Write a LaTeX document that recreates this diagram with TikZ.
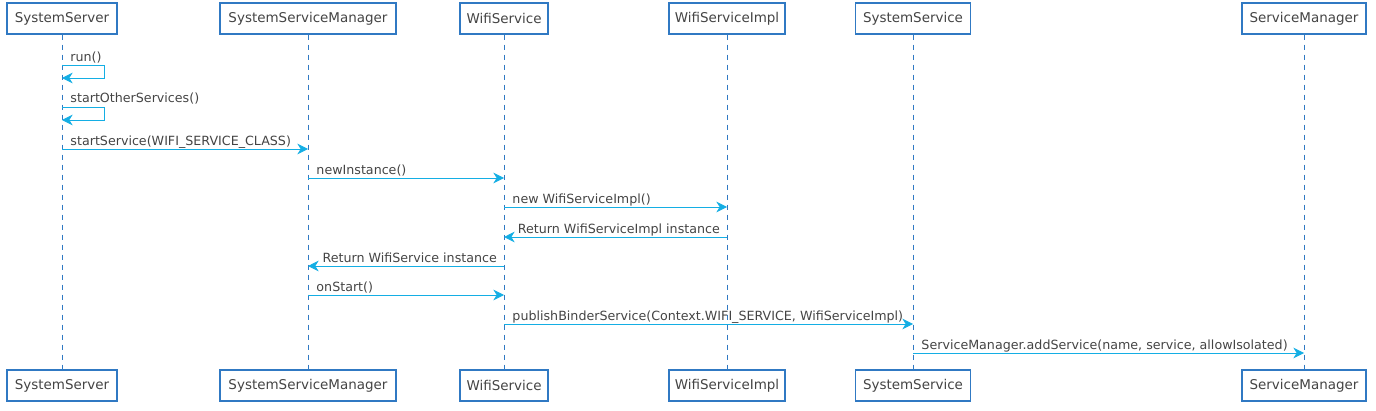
\documentclass[tikz,border=0pt]{standalone}
\usepackage{fontspec}
\setmainfont{DejaVu Sans}
\usepackage{tikz}
\usetikzlibrary{arrows.meta}
\definecolor{boxblue}{RGB}{48,121,195}
\definecolor{msgcyan}{RGB}{20,174,228}
\definecolor{txtgray}{RGB}{68,68,68}
\begin{document}
\begin{tikzpicture}
[x=0.75pt,y=-0.75pt,
part/.style={draw=boxblue,line width=0.95pt,fill=white,text=txtgray,minimum height=23.25pt,inner xsep=3pt,font=\fontsize{10.1}{12}\selectfont},
life/.style={boxblue,line width=0.7pt,dash pattern=on 4pt off 3.5pt},
msg/.style={msgcyan,line width=0.7pt,-{Stealth[length=8pt,width=8pt,inset=2.5pt]}},
lblr/.style={anchor=base west,inner sep=0pt,xshift=6pt,yshift=3pt,text=txtgray,font=\fontsize{9.5}{11}\selectfont},
lbll/.style={anchor=base east,inner sep=0pt,xshift=-5pt,yshift=3pt,text=txtgray,font=\fontsize{9.5}{11}\selectfont}]
\useasboundingbox (0,0) rectangle (1376,410);
\node[part,minimum width=82.5pt] (ss) at (62,18.5) {SystemServer};
\node[part,minimum width=132pt] (ssm) at (308,18.5) {SystemServiceManager};
\node[part,minimum width=66pt] (ws) at (504,18.5) {WifiService};
\node[part,minimum width=87pt] (wsi) at (727,18.5) {WifiServiceImpl};
\node[part,minimum width=86pt] (sys) at (913,18.5) {SystemService};
\node[part,minimum width=93pt] (sm) at (1304,18.5) {ServiceManager};
\node[part,minimum width=82.5pt] (ssb) at (62,385.5) {SystemServer};
\node[part,minimum width=132pt] (ssmb) at (308,385.5) {SystemServiceManager};
\node[part,minimum width=66pt] (wsb) at (504,385.5) {WifiService};
\node[part,minimum width=87pt] (wsib) at (727,385.5) {WifiServiceImpl};
\node[part,minimum width=86pt] (sysb) at (913,385.5) {SystemService};
\node[part,minimum width=93pt] (smb) at (1304,385.5) {ServiceManager};
\draw[life] (ss) -- (ssb);
\draw[life] (ssm) -- (ssmb);
\draw[life] (ws) -- (wsb);
\draw[life] (wsi) -- (wsib);
\draw[life] (sys) -- (sysb);
\draw[life] (sm) -- (smb);
\draw[msg] (ss|-0,65) node[lblr]{run()} -- ++(42,0) -- ++(0,13) -- (ss|-0,78);
\draw[msg] (ss|-0,107) node[lblr]{startOtherServices()} -- ++(42,0) -- ++(0,13) -- (ss|-0,120);
\draw[msg] (ss|-0,149) -- (ssm|-0,149) node[pos=0,lblr]{startService(WIFI\_SERVICE\_CLASS)};
\draw[msg] (ssm|-0,178) -- (ws|-0,178) node[pos=0,lblr]{newInstance()};
\draw[msg] (ws|-0,207) -- (wsi|-0,207) node[pos=0,lblr]{new WifiServiceImpl()};
\draw[msg] (wsi|-0,237) -- (ws|-0,237) node[pos=0,lbll]{Return WifiServiceImpl instance};
\draw[msg] (ws|-0,266) -- (ssm|-0,266) node[pos=0,lbll]{Return WifiService instance};
\draw[msg] (ssm|-0,295) -- (ws|-0,295) node[pos=0,lblr]{onStart()};
\draw[msg] (ws|-0,324) -- (sys|-0,324) node[pos=0,lblr]{publishBinderService(Context.WIFI\_SERVICE, WifiServiceImpl)};
\draw[msg] (sys|-0,353) -- (sm|-0,353) node[pos=0,lblr]{ServiceManager.addService(name, service, allowIsolated)};
\end{tikzpicture}
\end{document}
